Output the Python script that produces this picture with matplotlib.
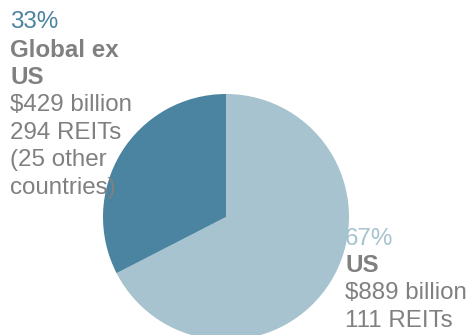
import matplotlib
matplotlib.use('Agg')
import matplotlib.pyplot as plt

plt.rcParams['font.family'] = ['Liberation Sans', 'DejaVu Sans']

regions = ['US', 'Global ex US']
billions = [889, 429]
reits = [111, 294]
pcts = ['67%', '33%']
colors = ['#a6c3cf', '#4b84a0']
grey = '#808080'

W, H = 469, 335
fig = plt.figure(figsize=(W / 100, H / 100), dpi=100)

# pie axes placed in pixels: center (226, 217), radius 123
cx, cy, r = 226, 217, 123
ax = fig.add_axes([(cx - r) / W, (H - cy - r) / H, 2 * r / W, 2 * r / H])
ax.pie(billions, colors=colors, startangle=90, counterclock=False, radius=1,
       wedgeprops=dict(linewidth=0))
ax.set_xlim(-1, 1)
ax.set_ylim(-1, 1)
ax.set_aspect('equal')
ax.axis('off')

fs = 17.4


def put(x, y, s, color=grey, bold=False):
    fig.text(x / W, 1 - y / H, s, color=color, fontsize=fs, va='baseline', ha='left',
             fontweight='bold' if bold else 'normal')


# left label: Global ex US
put(10, 28, pcts[1], color=colors[1])
put(10, 57, 'Global ex', bold=True)
put(10, 84, 'US', bold=True)
put(10, 111, '$%d billion' % billions[1])
put(10, 139, '%d REITs' % reits[1])
put(10, 166, '(25 other')
put(10, 194, 'countries)')

# right label: US
put(345, 245, pcts[0], color=colors[0])
put(345, 272, regions[0], bold=True)
put(345, 299, '$%d billion' % billions[0])
put(345, 327, '%d REITs' % reits[0])

fig.savefig('out.png', dpi=100)
